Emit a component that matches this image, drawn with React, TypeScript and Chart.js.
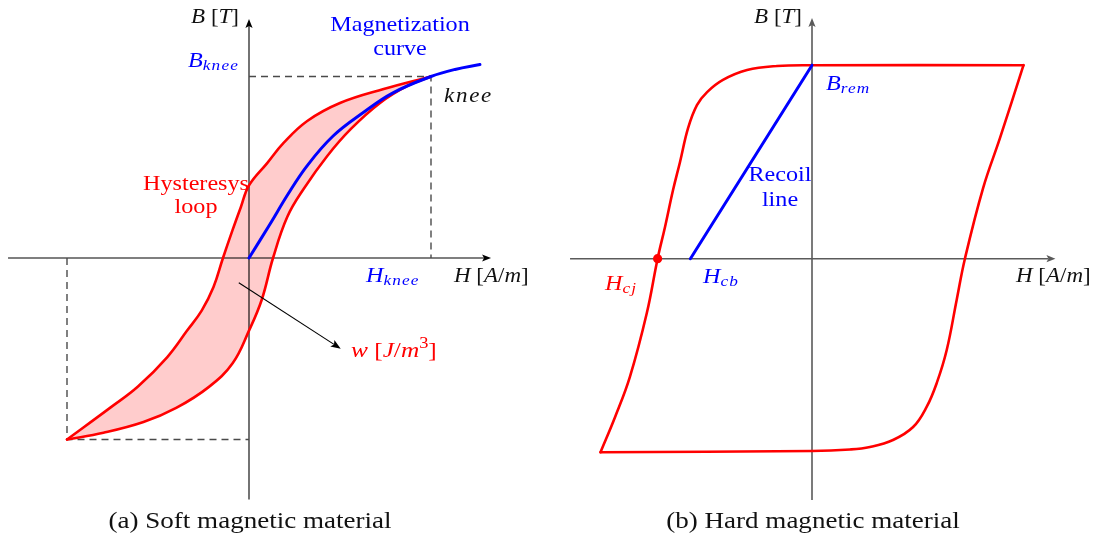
import React, { useEffect, useRef } from "react";
import { Chart, registerables } from "chart.js";

Chart.register(...registerables);

const SERIF = '"Liberation Serif", "Times New Roman", serif';
const STRETCH = 1.15;
const RED = "#ff0000";
const BLUE = "#0000ff";

// ---------- (a) Soft magnetic material ----------
const softKnee = { H: 100, B: 1.0 };
const softTip = { H: -100, B: -1.0 };

// descending branch (upper-left side of the loop), ordered by H
const softDescH = [-100, -76, -61, -45, -34, -26, -19.5, -14.3, -9, -4.5, 0, 10, 19, 32, 50, 74, 100];
const softDescB = [-1.0, -0.823, -0.708, -0.547, -0.4, -0.29, -0.16, 0, 0.155, 0.28, 0.4, 0.523, 0.634, 0.755, 0.854, 0.931, 1.0];

// ascending branch (lower-right side of the loop)
const softAscH = [-100, -80, -58, -40, -22, -9, 0, 7, 13.2, 21, 30, 43, 56, 72, 87, 100];
const softAscB = [-1.0, -0.963, -0.904, -0.826, -0.71, -0.58, -0.4, -0.23, 0, 0.226, 0.38, 0.562, 0.711, 0.854, 0.948, 1.0];

// first magnetization curve
const magH = [0, 11.5, 21.4, 31.9, 46.2, 62.6, 79.1, 100, 113.2, 126.9];
const magB = [0, 0.186, 0.351, 0.508, 0.672, 0.8, 0.91, 1.0, 1.039, 1.066];

// pointer from the loop area to the energy label
const wArrowFrom = [-5.6, -0.136];
const wArrowTo = [50.4, -0.5];

// ---------- (b) Hard magnetic material ----------
const hardBrem = 1.0;
const hardHcj = -73;
const hardHcb = -57.5;

const hardDescH = [-100, -93.1, -86.1, -78.1, -73.0, -69.5, -65.7, -62.4, -58.6, -54.4, -49.6, -42.1, -30.7, -16.5, 0, 100];
const hardDescB = [-1.0, -0.818, -0.611, -0.281, 0, 0.164, 0.355, 0.5, 0.675, 0.794, 0.861, 0.924, 0.975, 0.996, 1.0, 1.0];

const hardAscH = [-100, 0, 18.0, 27.4, 38.3, 47.8, 54.2, 59.0, 63.7, 68.4, 72.3, 80.9, 88.9, 100];
const hardAscB = [-1.0, -0.994, -0.986, -0.973, -0.937, -0.87, -0.766, -0.642, -0.472, -0.213, 0, 0.365, 0.624, 1.0];

type Pt = { x: number; y: number };
const zip = (hs: number[], bs: number[]): Pt[] => hs.map((h, i) => ({ x: h, y: bs[i] }));

type Seg = { t: string; it?: boolean; sub?: boolean; sup?: boolean; ls?: number };
type Label = {
  segs: Seg[];
  dx: number;
  dy: number;
  align: "left" | "center" | "right";
  size: number;
  color: string;
};

type PanelSpec = {
  left: number;
  width: number;
  height: number;
  originX: number;
  originY: number;
  pxPerH: number;
  pxPerB: number;
  datasets: any[];
  axis: { h: [number, number]; b: [number, number]; color: string; width: number };
  labels: Label[];
  arrows: { from: number[]; to: number[] }[];
};

function segFont(s: Seg, size: number) {
  const sz = s.sub || s.sup ? Math.round(size * 0.72) : size;
  return `${s.it ? "italic " : ""}${sz}px ${SERIF}`;
}

function drawLabel(ctx: CanvasRenderingContext2D, lab: Label, ox: number, oy: number) {
  ctx.save();
  ctx.textBaseline = "alphabetic";
  ctx.textAlign = "left";
  const c = ctx as any;
  const widths = lab.segs.map((s) => {
    ctx.font = segFont(s, lab.size);
    c.letterSpacing = `${s.ls ?? 0}px`;
    return ctx.measureText(s.t).width * STRETCH;
  });
  const total = widths.reduce((a, b) => a + b, 0);
  let x = ox + lab.dx - (lab.align === "center" ? total / 2 : lab.align === "right" ? total : 0);
  const y = oy + lab.dy;
  ctx.fillStyle = lab.color;
  lab.segs.forEach((s, i) => {
    ctx.font = segFont(s, lab.size);
    c.letterSpacing = `${s.ls ?? 0}px`;
    const yy = y + (s.sub ? lab.size * 0.16 : s.sup ? -lab.size * 0.4 : 0);
    ctx.save();
    ctx.translate(x, yy);
    ctx.scale(STRETCH, 1);
    ctx.fillText(s.t, 0, 0);
    ctx.restore();
    x += widths[i];
  });
  ctx.restore();
}

function drawArrow(
  ctx: CanvasRenderingContext2D,
  x1: number,
  y1: number,
  x2: number,
  y2: number,
  color: string,
  lw: number,
  len: number,
  half: number
) {
  const a = Math.atan2(y2 - y1, x2 - x1);
  const ca = Math.cos(a);
  const sa = Math.sin(a);
  const bx = x2 - ca * len;
  const by = y2 - sa * len;
  ctx.save();
  ctx.strokeStyle = color;
  ctx.lineWidth = lw;
  ctx.beginPath();
  ctx.moveTo(x1, y1);
  ctx.lineTo(bx + ca * 2, by + sa * 2);
  ctx.stroke();
  ctx.fillStyle = color;
  ctx.beginPath();
  ctx.moveTo(x2, y2);
  ctx.lineTo(bx - sa * half, by + ca * half);
  ctx.lineTo(bx + ca * 2, by + sa * 2);
  ctx.lineTo(bx + sa * half, by - ca * half);
  ctx.closePath();
  ctx.fill();
  ctx.restore();
}

const curve = (data: Pt[], color: string, width: number, extra: any = {}) => ({
  data,
  borderColor: color,
  backgroundColor: color,
  borderWidth: width,
  pointRadius: 0,
  tension: 0.4,
  borderJoinStyle: "round",
  borderCapStyle: "round",
  fill: false,
  ...extra,
});

const dashed = (data: Pt[]) => ({
  data,
  borderColor: "#4a4a4a",
  borderWidth: 1.4,
  borderDash: [7, 5],
  pointRadius: 0,
  tension: 0,
  fill: false,
});

const softSpec: PanelSpec = {
  left: 0,
  width: 548,
  height: 538,
  originX: 249,
  originY: 258,
  pxPerH: 1.82,
  pxPerB: 181.5,
  datasets: [
    curve(zip(magH, magB), BLUE, 3),
    curve(zip(softDescH, softDescB), RED, 2.6, { fill: "+1", backgroundColor: "rgba(255,0,0,0.2)" }),
    curve(zip(softAscH, softAscB), RED, 2.6),
    dashed([
      { x: 0, y: softKnee.B },
      { x: softKnee.H, y: softKnee.B },
      { x: softKnee.H, y: 0 },
    ]),
    dashed([
      { x: softTip.H, y: 0 },
      { x: softTip.H, y: softTip.B },
      { x: 0, y: softTip.B },
    ]),
  ],
  axis: { h: [-132.4, 133], b: [-1.33, 1.317], color: "#000000", width: 1.1 },
  labels: [
    { segs: [{ t: "B", it: true }, { t: " [" }, { t: "T", it: true }, { t: "]" }], dx: -10, dy: -235, align: "right", size: 20, color: "#111" },
    { segs: [{ t: "Magnetization" }], dx: 151, dy: -227, align: "center", size: 21, color: BLUE },
    { segs: [{ t: "curve" }], dx: 151, dy: -203, align: "center", size: 21, color: BLUE },
    { segs: [{ t: "B", it: true }, { t: "knee", it: true, sub: true, ls: 1 }], dx: -10, dy: -191.5, align: "right", size: 21, color: BLUE },
    { segs: [{ t: "knee", it: true, ls: 1.5 }], dx: 195, dy: -156.3, align: "left", size: 20, color: "#111" },
    { segs: [{ t: "Hysteresys" }], dx: -53, dy: -68, align: "center", size: 21, color: RED },
    { segs: [{ t: "loop" }], dx: -53, dy: -45, align: "center", size: 21, color: RED },
    { segs: [{ t: "H", it: true }, { t: "knee", it: true, sub: true, ls: 1 }], dx: 117, dy: 23.7, align: "left", size: 21, color: BLUE },
    { segs: [{ t: "H", it: true }, { t: " [" }, { t: "A", it: true }, { t: "/" }, { t: "m", it: true }, { t: "]" }], dx: 205, dy: 23.7, align: "left", size: 20, color: "#111" },
    {
      segs: [{ t: "w", it: true }, { t: " [" }, { t: "J", it: true }, { t: "/" }, { t: "m", it: true }, { t: "3", sup: true }, { t: "]" }],
      dx: 102,
      dy: 98.7,
      align: "left",
      size: 22,
      color: RED,
    },
    { segs: [{ t: "(a) Soft magnetic material" }], dx: 1, dy: 270, align: "center", size: 23.5, color: "#111" },
  ],
  arrows: [{ from: wArrowFrom, to: wArrowTo }],
};

const hardSpec: PanelSpec = {
  left: 548,
  width: 547,
  height: 538,
  originX: 264,
  originY: 258.7,
  pxPerH: 2.115,
  pxPerB: 193.5,
  datasets: [
    {
      data: [{ x: hardHcj, y: 0 }],
      showLine: false,
      pointRadius: 4.6,
      pointBackgroundColor: RED,
      pointBorderColor: RED,
      pointBorderWidth: 0,
    },
    curve([{ x: hardHcb, y: 0 }, { x: 0, y: hardBrem }], BLUE, 3, { tension: 0 }),
    curve(zip(hardDescH, hardDescB), RED, 2.6),
    curve(zip(hardAscH, hardAscB), RED, 2.6),
  ],
  axis: { h: [-114.4, 115.1], b: [-1.247, 1.244], color: "#5a5a5a", width: 1.6 },
  labels: [
    { segs: [{ t: "B", it: true }, { t: " [" }, { t: "T", it: true }, { t: "]" }], dx: -10, dy: -236, align: "right", size: 20, color: "#111" },
    { segs: [{ t: "B", it: true }, { t: "rem", it: true, sub: true, ls: 1 }], dx: 14, dy: -168.7, align: "left", size: 21, color: BLUE },
    { segs: [{ t: "Recoil" }], dx: -32, dy: -77.7, align: "center", size: 21, color: BLUE },
    { segs: [{ t: "line" }], dx: -32, dy: -53, align: "center", size: 21, color: BLUE },
    { segs: [{ t: "H", it: true }, { t: "cj", it: true, sub: true, ls: 1 }], dx: -207, dy: 31.3, align: "left", size: 21, color: RED },
    { segs: [{ t: "H", it: true }, { t: "cb", it: true, sub: true, ls: 1 }], dx: -109, dy: 24.3, align: "left", size: 21, color: BLUE },
    { segs: [{ t: "H", it: true }, { t: " [" }, { t: "A", it: true }, { t: "/" }, { t: "m", it: true }, { t: "]" }], dx: 204, dy: 23, align: "left", size: 20, color: "#111" },
    { segs: [{ t: "(b) Hard magnetic material" }], dx: 1, dy: 269.3, align: "center", size: 23.5, color: "#111" },
  ],
  arrows: [],
};

function Panel({ spec }: { spec: PanelSpec }) {
  const ref = useRef<HTMLCanvasElement>(null);

  useEffect(() => {
    const canvas = ref.current;
    if (!canvas) return;
    const s = spec;
    const chart = new Chart(canvas, {
      type: "line",
      data: { datasets: s.datasets },
      options: {
        responsive: false,
        animation: false,
        events: [],
        layout: { padding: 0, autoPadding: false },
        scales: {
          x: {
            type: "linear",
            display: false,
            bounds: "data",
            min: -s.originX / s.pxPerH,
            max: (s.width - s.originX) / s.pxPerH,
          },
          y: {
            type: "linear",
            display: false,
            bounds: "data",
            min: -(s.height - s.originY) / s.pxPerB,
            max: s.originY / s.pxPerB,
          },
        },
        plugins: {
          legend: { display: false },
          tooltip: { enabled: false },
          filler: { drawTime: "beforeDatasetsDraw" },
        } as any,
      } as any,
      plugins: [
        {
          id: "axesAndText",
          beforeDatasetsDraw(c: any) {
            const ctx: CanvasRenderingContext2D = c.ctx;
            const xs = c.scales.x;
            const ys = c.scales.y;
            const ox = xs.getPixelForValue(0);
            const oy = ys.getPixelForValue(0);
            const { h, b, color, width } = s.axis;
            drawArrow(ctx, xs.getPixelForValue(h[0]), oy, xs.getPixelForValue(h[1]), oy, color, width, 9, 3.6);
            drawArrow(ctx, ox, ys.getPixelForValue(b[0]), ox, ys.getPixelForValue(b[1]), color, width, 9, 3.6);
          },
          afterDatasetsDraw(c: any) {
            const ctx: CanvasRenderingContext2D = c.ctx;
            const xs = c.scales.x;
            const ys = c.scales.y;
            const ox = xs.getPixelForValue(0);
            const oy = ys.getPixelForValue(0);
            s.arrows.forEach((a) => {
              drawArrow(
                ctx,
                xs.getPixelForValue(a.from[0]),
                ys.getPixelForValue(a.from[1]),
                xs.getPixelForValue(a.to[0]),
                ys.getPixelForValue(a.to[1]),
                "#000",
                1.1,
                10,
                3.8
              );
            });
            s.labels.forEach((lab) => drawLabel(ctx, lab, ox, oy));
          },
        },
      ],
    });
    return () => chart.destroy();
  }, [spec]);

  return (
    <canvas
      ref={ref}
      width={spec.width}
      height={spec.height}
      style={{ position: "absolute", left: spec.left, top: 0, width: spec.width, height: spec.height }}
    />
  );
}

export default function App() {
  return (
    <div style={{ position: "absolute", left: 0, top: 0, width: 1095, height: 538, background: "#fff", overflow: "hidden" }}>
      <Panel spec={softSpec} />
      <Panel spec={hardSpec} />
    </div>
  );
}
